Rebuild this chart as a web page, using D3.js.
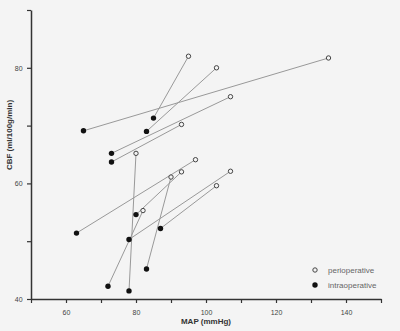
<!DOCTYPE html>
<html lang="en">
<head>
    <meta charset="UTF-8">
    <title>CBF vs MAP</title>
    <script src="https://d3js.org/d3.v7.min.js"></script>
    <style>
        body { margin: 0; background: #f4f4f4; }
        svg { display: block; font-family: "Liberation Sans", Arial, sans-serif; }
        .axis path, .axis line { stroke: #333; }
        .axis path { stroke-width: 1.5; }
        .axis text { fill: #444; font-size: 7px; }
    </style>
</head>
<body>
    <script>
        var w = 400;
        var h = 331;

        // paired readings: intraoperative -> perioperative (same index)
        var intraMAP = [85, 65, 83, 73, 73, 78, 63, 83, 72, 80, 78, 87];
        var intraCBF = [71.3, 69.1, 69.0, 65.2, 63.7, 41.4, 51.4, 45.2, 42.2, 54.6, 50.3, 52.2];
        var periMAP = [95, 135, 103, 107, 93, 80, 97, 90, 82, 93, 107, 103];
        var periCBF = [82.0, 81.7, 80.0, 75.0, 70.2, 65.2, 64.1, 61.1, 55.3, 62.0, 62.1, 59.6];

        var xTicks = [50, 60, 70, 80, 90, 100, 110, 120, 130, 140, 150];
        var xLabels = [60, 80, 100, 120, 140];
        var yTicks = [40, 50, 60, 70, 80, 90];
        var yLabels = [40, 60, 80];

        var xScale = d3.scaleLinear().domain([50, 150]).range([31, 381]);
        var yScale = d3.scaleLinear().domain([40, 90]).range([299, 10]);

        var svg = d3.select("body").append("svg")
            .attr("width", w)
            .attr("height", h);

        // axes
        var xAxis = d3.axisBottom(xScale)
            .tickValues(xTicks)
            .tickSize(4)
            .tickSizeOuter(0)
            .tickFormat(function (d) { return xLabels.indexOf(d) >= 0 ? d : ""; });

        var yAxis = d3.axisLeft(yScale)
            .tickValues(yTicks)
            .tickSize(4)
            .tickSizeOuter(0)
            .tickFormat(function (d) { return yLabels.indexOf(d) >= 0 ? d : ""; });

        svg.append("g")
            .attr("class", "axis")
            .attr("transform", "translate(0," + yScale(40) + ")")
            .call(xAxis)
            .selectAll("text").attr("dy", "1.3em");

        svg.append("g")
            .attr("class", "axis")
            .attr("transform", "translate(" + xScale(50) + ",0)")
            .call(yAxis)
            .selectAll("text").attr("dx", "-0.2em");

        svg.selectAll(".axis line").attr("stroke-width", 1.2);

        // axis titles
        svg.append("text")
            .attr("x", 206)
            .attr("y", 324)
            .attr("text-anchor", "middle")
            .attr("font-size", "8px")
            .attr("font-weight", "bold")
            .attr("fill", "#333")
            .text("MAP (mmHg)");

        svg.append("text")
            .attr("transform", "translate(12,135) rotate(-90)")
            .attr("text-anchor", "middle")
            .attr("font-size", "8px")
            .attr("font-weight", "bold")
            .attr("fill", "#333")
            .text("CBF (ml/100g/min)");

        var idx = d3.range(intraMAP.length);

        // connecting lines
        svg.selectAll("line.pair")
            .data(idx)
            .enter()
            .append("line")
            .attr("class", "pair")
            .attr("x1", function (i) { return xScale(intraMAP[i]); })
            .attr("y1", function (i) { return yScale(intraCBF[i]); })
            .attr("x2", function (i) { return xScale(periMAP[i]); })
            .attr("y2", function (i) { return yScale(periCBF[i]); })
            .attr("stroke", "#999")
            .attr("stroke-width", 1);

        // perioperative (open)
        svg.selectAll("circle.peri")
            .data(idx)
            .enter()
            .append("circle")
            .attr("class", "peri")
            .attr("cx", function (i) { return xScale(periMAP[i]); })
            .attr("cy", function (i) { return yScale(periCBF[i]); })
            .attr("r", 2.2)
            .attr("fill", "#f4f4f4")
            .attr("stroke", "#444")
            .attr("stroke-width", 1);

        // intraoperative (filled)
        svg.selectAll("circle.intra")
            .data(idx)
            .enter()
            .append("circle")
            .attr("class", "intra")
            .attr("cx", function (i) { return xScale(intraMAP[i]); })
            .attr("cy", function (i) { return yScale(intraCBF[i]); })
            .attr("r", 2.7)
            .attr("fill", "#111");

        // legend
        var legend = svg.append("g").attr("transform", "translate(315,270)");
        legend.append("circle")
            .attr("r", 2.2)
            .attr("fill", "#f4f4f4")
            .attr("stroke", "#444");
        legend.append("circle")
            .attr("cy", 15)
            .attr("r", 2.7)
            .attr("fill", "#111");
        legend.append("text")
            .attr("x", 13).attr("y", 3)
            .attr("font-size", "8px").attr("fill", "#666")
            .text("perioperative");
        legend.append("text")
            .attr("x", 13).attr("y", 18)
            .attr("font-size", "8px").attr("fill", "#666")
            .text("intraoperative");
    </script>
</body>
</html>
